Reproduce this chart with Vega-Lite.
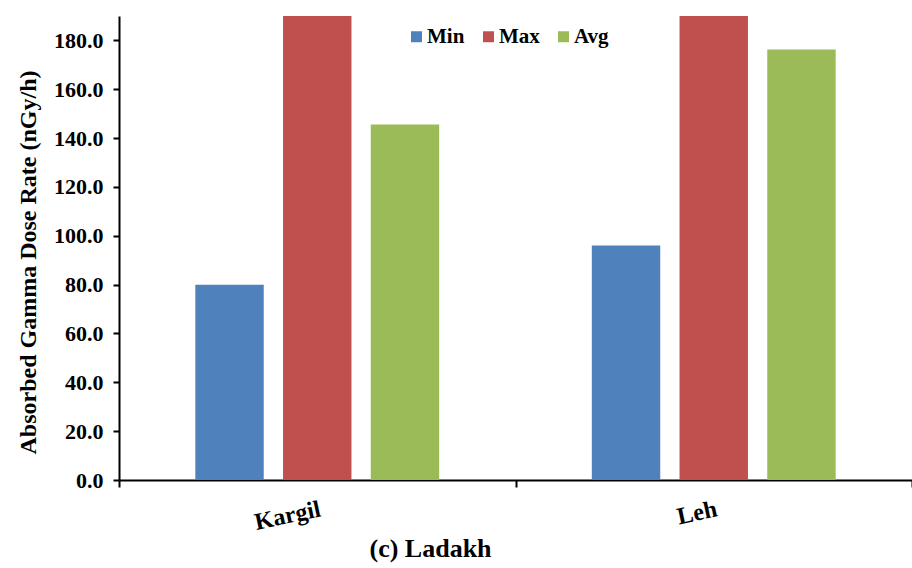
{
  "$schema": "https://vega.github.io/schema/vega-lite/v6.json",
  "width": 793,
  "height": 464,
  "autosize": {"type": "none"},
  "padding": {"left": 119, "top": 16, "right": 0, "bottom": 88},
  "background": "white",
  "data": {
    "values": [
      {"Site": "Kargil", "Stat": "Min", "Rate": 80.0},
      {"Site": "Kargil", "Stat": "Max", "Rate": 190.0},
      {"Site": "Kargil", "Stat": "Avg", "Rate": 145.6},
      {"Site": "Leh", "Stat": "Min", "Rate": 96.0},
      {"Site": "Leh", "Stat": "Max", "Rate": 190.0},
      {"Site": "Leh", "Stat": "Avg", "Rate": 176.3}
    ]
  },
  "title": {
    "text": "(c)  Ladakh",
    "orient": "bottom",
    "anchor": "middle",
    "dx": -85,
    "offset": 2,
    "fontSize": 26,
    "font": "Liberation Serif",
    "fontWeight": "bold",
    "color": "black"
  },
  "mark": {"type": "bar", "clip": true},
  "encoding": {
    "x": {
      "field": "Site",
      "type": "nominal",
      "sort": ["Kargil", "Leh"],
      "scale": {"paddingInner": 0, "paddingOuter": 0},
      "axis": {
        "title": null,
        "labelAngle": -12,
        "labelAlign": "right",
        "labelBaseline": "top",
        "labelPadding": 10,
        "labelFontSize": 24,
        "labelDx": -4,
        "tickBand": "extent",
        "ticks": true,
        "tickSize": 7,
        "tickWidth": 2,
        "domainWidth": 2,
        "labelOverlap": false,
        "labelBound": false
      }
    },
    "xOffset": {
      "field": "Stat",
      "type": "nominal",
      "sort": ["Min", "Max", "Avg"],
      "scale": {"paddingInner": 0.22, "paddingOuter": 0.87}
    },
    "y": {
      "field": "Rate",
      "type": "quantitative",
      "scale": {"domain": [0, 190], "nice": false, "zero": true},
      "axis": {
        "title": "Absorbed Gamma Dose  Rate (nGy/h)",
        "values": [0, 20, 40, 60, 80, 100, 120, 140, 160, 180],
        "format": ".1f",
        "grid": false,
        "labelFontSize": 22,
        "labelPadding": 10,
        "tickSize": 6,
        "tickWidth": 2,
        "domainWidth": 2,
        "titleFontSize": 24,
        "titleX": -91,
        "titleY": 246,
        "titleAngle": 270,
        "titleAlign": "center",
        "titleBaseline": "middle"
      }
    },
    "color": {
      "field": "Stat",
      "type": "nominal",
      "sort": ["Min", "Max", "Avg"],
      "scale": {"domain": ["Min", "Max", "Avg"], "range": ["#4F81BD", "#C0504D", "#9BBB59"]},
      "legend": {
        "title": null,
        "orient": "none",
        "legendX": 287,
        "legendY": 10,
        "direction": "horizontal",
        "symbolType": "square",
        "symbolSize": 121,
        "symbolStrokeWidth": 0,
        "labelFontSize": 21,
        "labelFont": "Liberation Serif",
        "labelFontWeight": "bold",
        "labelColor": "black",
        "columnPadding": 13,
        "labelOffset": 0,
        "padding": 0
      }
    }
  },
  "config": {
    "view": {"stroke": null},
    "axis": {
      "domainColor": "black",
      "tickColor": "black",
      "labelColor": "black",
      "titleColor": "black",
      "labelFont": "Liberation Serif",
      "titleFont": "Liberation Serif",
      "labelFontWeight": "bold",
      "titleFontWeight": "bold"
    }
  }
}
